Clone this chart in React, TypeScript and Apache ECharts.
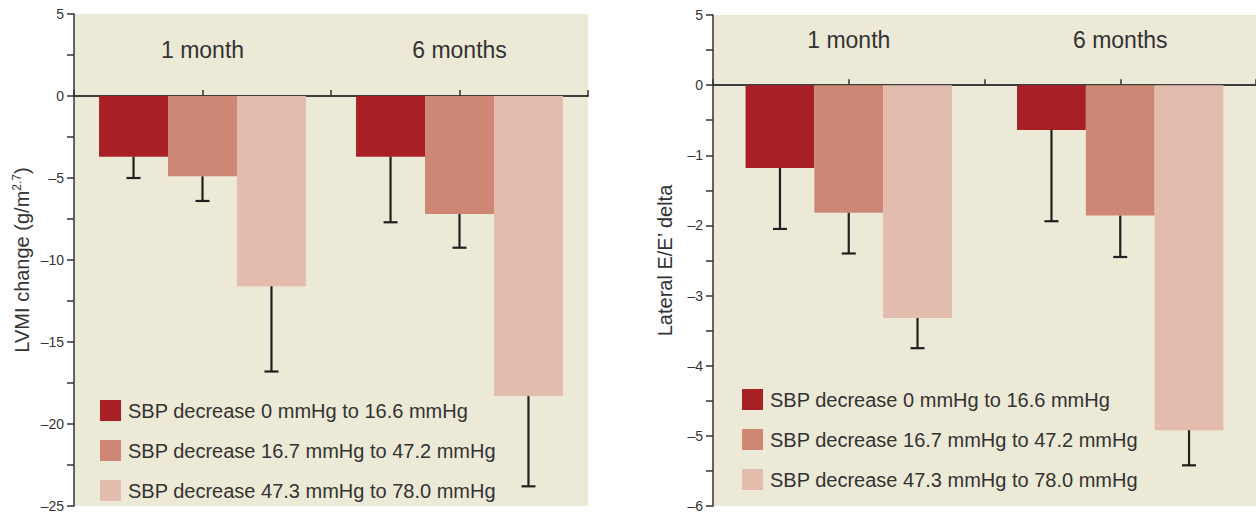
import React, { useEffect, useRef } from "react";
import * as echarts from "echarts";

const categories = ["1 month", "6 months"];
const seriesNames = [
  "SBP decrease 0 mmHg to 16.6 mmHg",
  "SBP decrease 16.7 mmHg to 47.2 mmHg",
  "SBP decrease 47.3 mmHg to 78.0 mmHg",
];
const colors = ["#A82026", "#CE8774", "#E4BCAD"];

// Left panel: LVMI change (g/m^2.7)
const lvmiMeans = [
  [-3.7, -3.7],
  [-4.9, -7.2],
  [-11.6, -18.3],
];
const lvmiErrors = [
  [1.3, 4.0],
  [1.5, 2.05],
  [5.2, 5.5],
];

// Right panel: Lateral E/E' delta
const eeMeans = [
  [-1.18, -0.64],
  [-1.82, -1.86],
  [-3.32, -4.92],
];
const eeErrors = [
  [0.87, 1.3],
  [0.58, 0.59],
  [0.43, 0.5],
];

const BG = "#ECE9D6";
const INK = "#333333";
const DARK = "#231F20";
const FONT = "'Liberation Sans', Arial, sans-serif";

const dash = (v: number) => (v < 0 ? "\u2013" + String(-v) : String(v));

function errorSeries(
  name: string,
  gridIdx: number,
  sIdx: number,
  means: number[],
  errs: number[],
  gapFrac: number
) {
  return {
    type: "custom",
    name,
    xAxisIndex: gridIdx * 3,
    yAxisIndex: gridIdx,
    z: 5,
    silent: true,
    data: means.map((m, i) => [i, m, m - errs[i]]),
    renderItem: (params: any, api: any) => {
      const cat = api.value(0);
      const top = api.coord([cat, api.value(1)]);
      const bot = api.coord([cat, api.value(2)]);
      const band = api.size([1, 0])[0];
      const bw = (band * (1 - gapFrac)) / 3;
      const x = top[0] + (sIdx - 1) * bw;
      const capHalf = 7;
      const style = { stroke: DARK, lineWidth: 2.2 };
      return {
        type: "group",
        children: [
          { type: "line", shape: { x1: x, y1: top[1], x2: x, y2: bot[1] }, style },
          { type: "line", shape: { x1: x - capHalf, y1: bot[1], x2: x + capHalf, y2: bot[1] }, style },
        ],
      };
    },
  };
}

export default function App() {
  const ref = useRef<HTMLDivElement>(null);
  useEffect(() => {
    if (!ref.current) return;
    const chart = echarts.init(ref.current, null, { renderer: "svg" });
    const gapL = 0.195;
    const gapR = 0.24;

    const xAxes = (gridIndex: number, hiddenY: number, labelMargin: number) => [
      {
        type: "category",
        gridIndex,
        data: categories,
        position: "bottom",
        axisLine: { show: true, onZero: true, lineStyle: { color: INK, width: 1.5 } },
        axisTick: { show: true, inside: true, length: 6, alignWithLabel: false, lineStyle: { color: INK, width: 1.5 } },
        axisLabel: { show: false },
        splitLine: { show: false },
      },
      {
        type: "category",
        gridIndex,
        data: categories,
        position: "bottom",
        axisLine: { show: true, onZero: true, onZeroAxisIndex: hiddenY, lineStyle: { color: INK, width: 1.5 } },
        axisTick: { show: true, inside: true, length: 6, alignWithLabel: true, lineStyle: { color: INK, width: 1.5 } },
        axisLabel: { show: false },
        splitLine: { show: false },
      },
      {
        type: "category",
        gridIndex,
        data: categories,
        position: "top",
        axisLine: { show: false, onZero: false },
        axisTick: { show: false },
        axisLabel: {
          show: true,
          inside: true,
          margin: labelMargin,
          verticalAlign: "middle",
          fontSize: 23,
          fontFamily: FONT,
          color: INK,
        },
        splitLine: { show: false },
      },
    ];

    const legendBase = {
      data: seriesNames,
      orient: "vertical",
      padding: 0,
      itemWidth: 21,
      itemHeight: 21,
      itemGap: 19,
      icon: "rect",
      selectedMode: false,
      textStyle: { fontSize: 20, color: INK, fontFamily: FONT, padding: [0, 0, 0, 2] },
    };

    const option: any = {
      animation: false,
      textStyle: { fontFamily: FONT },
      grid: [
        { left: 74, right: 668, top: 14, bottom: 7, show: true, backgroundColor: BG, borderWidth: 0 },
        { left: 713, right: 0, top: 15, bottom: 7, show: true, backgroundColor: BG, borderWidth: 0 },
      ],
      legend: [
        { ...legendBase, left: 100, top: 400 },
        { ...legendBase, left: 742, top: 389 },
      ],
      xAxis: [...xAxes(0, 2, 36), ...xAxes(1, 3, 25)],
      yAxis: [
        {
          type: "value",
          gridIndex: 0,
          min: -25,
          max: 5,
          interval: 2.5,
          name: "LVMI change (g/m{sup|2.7})",
          nameLocation: "middle",
          nameGap: 42,
          nameTextStyle: {
            fontSize: 20,
            color: INK,
            fontFamily: FONT,
            rich: { sup: { fontSize: 12, color: INK, fontFamily: FONT, padding: [0, 0, 9, 0] } },
          },
          axisLine: { show: true, lineStyle: { color: INK, width: 1.5 } },
          axisTick: { show: true, length: 7, lineStyle: { color: INK, width: 1.5 } },
          axisLabel: {
            margin: 10,
            fontSize: 14,
            color: INK,
            fontFamily: FONT,
            formatter: (v: number) => (v % 5 === 0 ? dash(v) : ""),
          },
          splitLine: { show: false },
        },
        {
          type: "value",
          gridIndex: 1,
          min: -6,
          max: 1,
          interval: 0.5,
          name: "Lateral E/E\u2019 delta",
          nameLocation: "middle",
          nameGap: 38,
          nameTextStyle: { fontSize: 20, color: INK, fontFamily: FONT },
          axisLine: { show: true, lineStyle: { color: INK, width: 1.5 } },
          axisTick: { show: true, length: 7, lineStyle: { color: INK, width: 1.5 } },
          axisLabel: {
            margin: 10,
            fontSize: 14,
            color: INK,
            fontFamily: FONT,
            formatter: (v: number) => (v === 1 ? "5" : Number.isInteger(v) ? dash(v) : ""),
          },
          splitLine: { show: false },
        },
        { type: "value", gridIndex: 0, min: -25, max: 5, show: false },
        { type: "value", gridIndex: 1, min: -6, max: 1, show: false },
      ],
      series: [
        ...seriesNames.map((name, s) => ({
          type: "bar",
          name,
          xAxisIndex: 0,
          yAxisIndex: 0,
          data: lvmiMeans[s],
          itemStyle: { color: colors[s] },
          barGap: "0%",
          barCategoryGap: gapL * 100 + "%",
          z: 2,
        })),
        ...seriesNames.map((name, s) => ({
          type: "bar",
          name,
          xAxisIndex: 3,
          yAxisIndex: 1,
          data: eeMeans[s],
          itemStyle: { color: colors[s] },
          barGap: "0%",
          barCategoryGap: gapR * 100 + "%",
          z: 2,
        })),
        ...seriesNames.map((name, s) => errorSeries(name, 0, s, lvmiMeans[s], lvmiErrors[s], gapL)),
        ...seriesNames.map((name, s) => errorSeries(name, 1, s, eeMeans[s], eeErrors[s], gapR)),
      ],
    };
    chart.setOption(option);
    return () => chart.dispose();
  }, []);
  return (
    <div
      ref={ref}
      style={{ position: "fixed", left: 0, top: 0, width: 1256, height: 513, background: "#fff" }}
    />
  );
}
